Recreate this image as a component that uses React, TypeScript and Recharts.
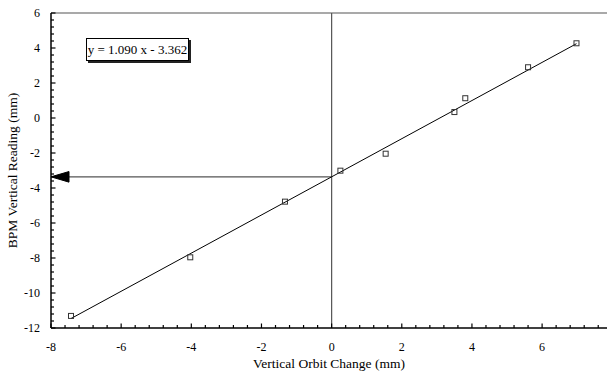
import React from "react";
import {
  ScatterChart,
  Scatter,
  XAxis,
  YAxis,
  ReferenceLine,
  ReferenceDot,
} from "recharts";

// Measured data (Vertical Orbit Change vs BPM Vertical Reading), mm
const orbitChange = [-7.43, -4.03, -1.33, 0.25, 1.54, 3.5, 3.81, 5.6, 6.98];
const bpmReading = [-11.31, -7.96, -4.78, -3.01, -2.04, 0.34, 1.13, 2.9, 4.27];

// Fit
const slope = 1.09;
const intercept = -3.362;
const fitLabel = "y = 1.090 x - 3.362";

// Axis ticks
const xMajorTicks = [-8, -6, -4, -2, 0, 2, 4, 6];
const yMajorTicks = [-12, -10, -8, -6, -4, -2, 0, 2, 4, 6];
const minorStep = 0.4;
const xDomain: [number, number] = [-8, 7.85];
const yDomain: [number, number] = [-12, 6];

const makeTicks = (lo: number, hi: number) => {
  const out: number[] = [];
  const n = Math.floor((hi - lo) / minorStep + 1e-6);
  for (let i = 0; i <= n; i++) out.push(Math.round((lo + i * minorStep) * 100) / 100);
  return out;
};
const xTicks = makeTicks(-8, 7.85);
const yTicks = makeTicks(-12, 6);

const isMajor = (v: number, majors: number[]) => majors.some((m) => Math.abs(m - v) < 1e-6);

const data = orbitChange.map((x, i) => ({ x, y: bpmReading[i] }));
const fitX0 = Math.min(...orbitChange);
const fitX1 = Math.max(...orbitChange);

const FONT = "'Liberation Serif', 'Times New Roman', serif";

const XTick = (props: any) => {
  const { x, y, payload } = props;
  const v = payload.value;
  const major = isMajor(v, xMajorTicks);
  return (
    <g>
      <line x1={x} x2={x} y1={y} y2={y - (major ? 4.5 : 3)} stroke="#000" strokeWidth={1.2} />
      {major && (
        <text x={x} y={y + 23} textAnchor="middle" fontSize={12} fontFamily={FONT} fill="#000">
          {v}
        </text>
      )}
    </g>
  );
};

const YTick = (props: any) => {
  const { x, y, payload } = props;
  const v = payload.value;
  const major = isMajor(v, yMajorTicks);
  return (
    <g>
      <line x1={x} x2={x + (major ? 4.5 : 3)} y1={y} y2={y} stroke="#000" strokeWidth={1.2} />
      {major && (
        <text x={x - 11} y={y + 4} textAnchor="end" fontSize={12} fontFamily={FONT} fill="#000">
          {v}
        </text>
      )}
    </g>
  );
};

const SquareMarker = (props: any) => {
  const { cx, cy } = props;
  return (
    <rect x={cx - 2.5} y={cy - 2.5} width={5} height={5} fill="none" stroke="#333" strokeWidth={1} />
  );
};

const ArrowHead = (props: any) => {
  const { cx, cy } = props;
  return (
    <polygon
      points={`${cx},${cy} ${cx + 18},${cy - 5.3} ${cx + 18},${cy + 5.3}`}
      fill="#000"
      stroke="#000"
    />
  );
};

export default function App() {
  return (
    <div
      style={{
        position: "fixed",
        left: 0,
        top: 0,
        width: 607,
        height: 374,
        overflow: "hidden",
        background: "#fff",
        fontFamily: FONT,
      }}
    >
      <ScatterChart width={607} height={374} margin={{ top: 13, right: 0, bottom: 0, left: 0 }}>
        <XAxis
          type="number"
          dataKey="x"
          domain={xDomain}
          allowDataOverflow
          ticks={xTicks}
          interval={0}
          tickSize={0}
          tickMargin={0}
          tickLine={false}
          tick={<XTick />}
          height={46}
          axisLine={{ stroke: "#000", strokeWidth: 1.5 }}
          label={{
            value: "Vertical Orbit Change (mm)",
            position: "insideBottom",
            offset: 6,
            fontSize: 13.5,
            fontFamily: FONT,
            fill: "#000",
          }}
        />
        <YAxis
          type="number"
          dataKey="y"
          domain={yDomain}
          allowDataOverflow
          ticks={yTicks}
          interval={0}
          tickSize={0}
          tickMargin={0}
          tickLine={false}
          tick={<YTick />}
          width={51}
          axisLine={{ stroke: "#000", strokeWidth: 1.5 }}
          label={{
            value: "BPM Vertical Reading (mm)",
            angle: -90,
            position: "insideLeft",
            offset: 12,
            fontSize: 13.5,
            fontFamily: FONT,
            fill: "#000",
            style: { textAnchor: "middle" },
          }}
        />
        <ReferenceLine y={6} stroke="#555" strokeWidth={1.2} />
        <ReferenceLine x={0} stroke="#555" strokeWidth={1.2} />
        <ReferenceLine
          segment={[
            { x: -8, y: intercept },
            { x: 0, y: intercept },
          ]}
          stroke="#555"
          strokeWidth={1.2}
        />
        <ReferenceDot x={-8} y={intercept} shape={<ArrowHead />} ifOverflow="visible" />
        <ReferenceLine
          segment={[
            { x: fitX0, y: slope * fitX0 + intercept },
            { x: fitX1, y: slope * fitX1 + intercept },
          ]}
          stroke="#000"
          strokeWidth={1}
        />
        <Scatter data={data} shape={<SquareMarker />} isAnimationActive={false} />
      </ScatterChart>
      <div
        style={{
          position: "absolute",
          left: 86,
          top: 38,
          width: 101,
          height: 21,
          border: "1px solid #000",
          boxShadow: "2px 2px 0 #222",
          background: "#fff",
          fontSize: 13,
          lineHeight: "21px",
          textAlign: "center",
          whiteSpace: "nowrap",
          color: "#000",
        }}
      >
        {fitLabel}
      </div>
    </div>
  );
}
